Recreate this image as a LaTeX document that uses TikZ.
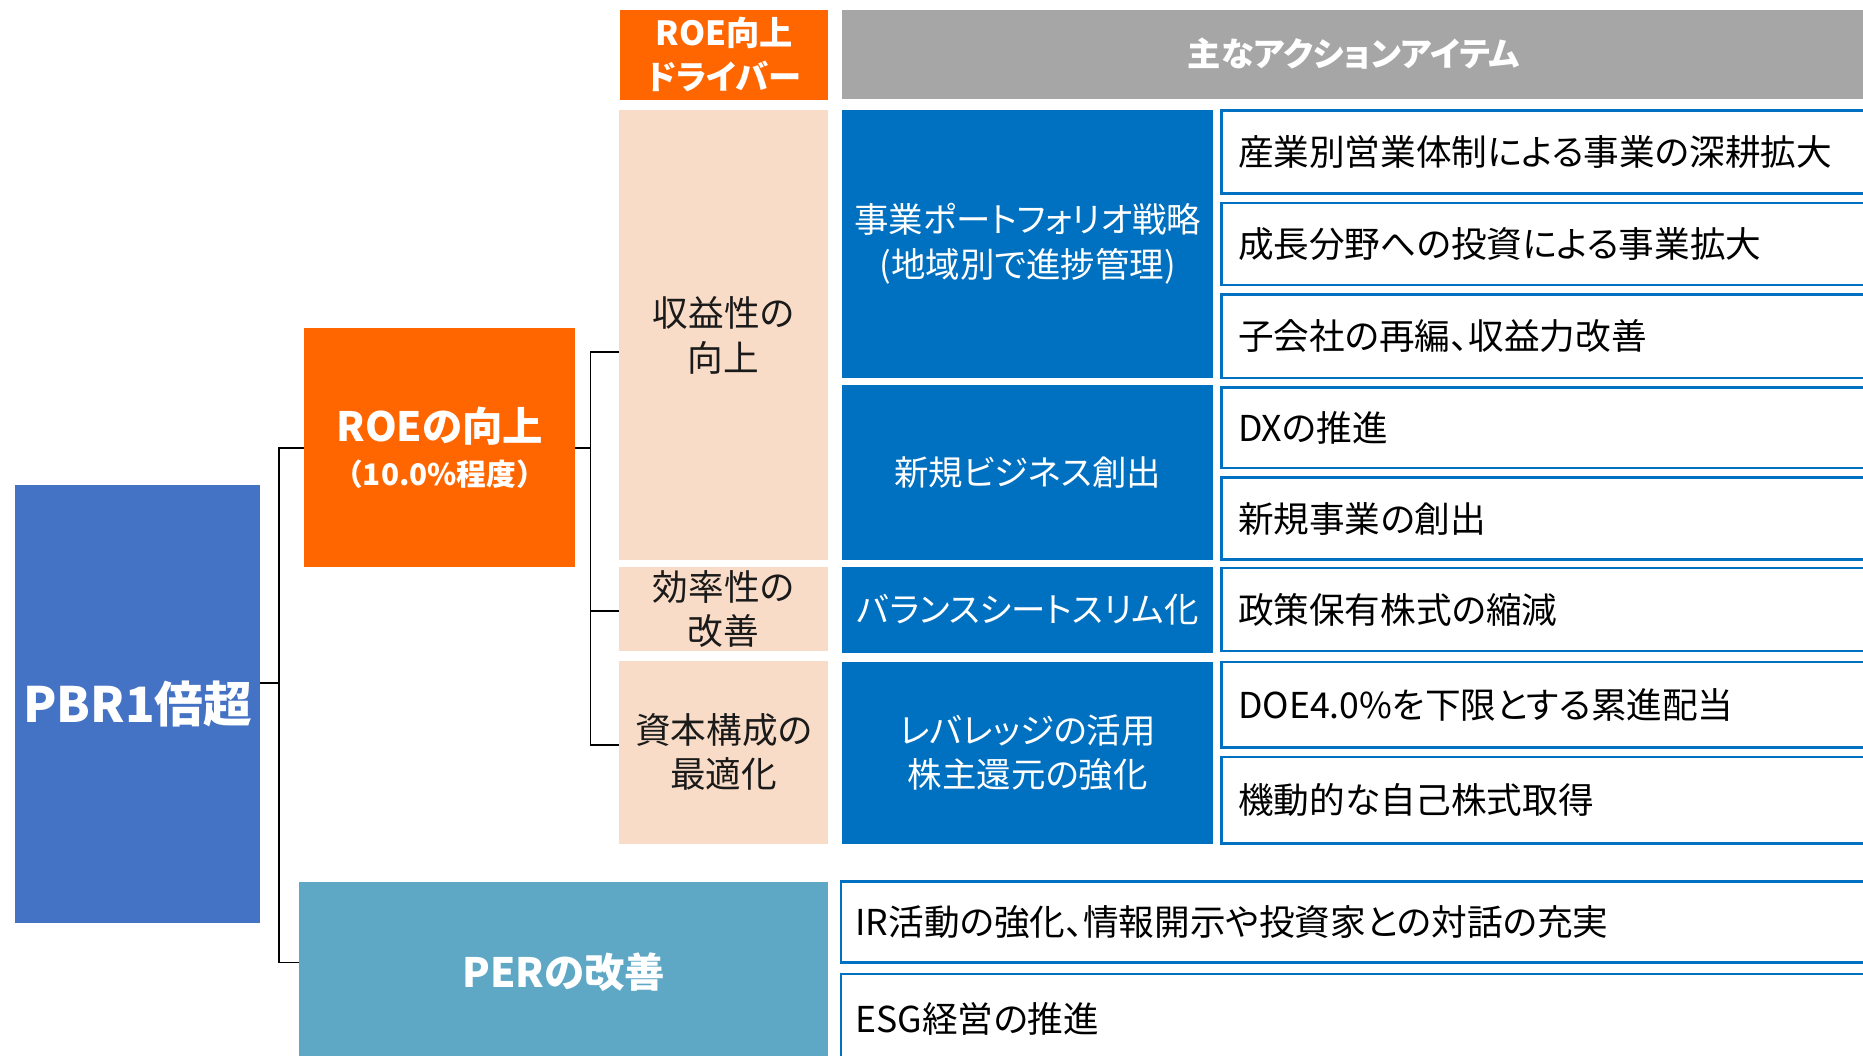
\documentclass[tikz,border=0pt]{standalone}
\usepackage{fontspec}
\setmainfont{Noto Sans CJK JP}[RawFeature={+palt}]
\usetikzlibrary{calc}
\definecolor{pbrblue}{HTML}{4472C4}
\definecolor{roeorange}{HTML}{FF6600}
\definecolor{perteal}{HTML}{5EA8C6}
\definecolor{hdrgray}{HTML}{A6A6A6}
\definecolor{peach}{HTML}{F9DCC8}
\definecolor{actblue}{HTML}{0070C0}
\definecolor{darktext}{HTML}{1A1A1A}
\newcommand{\fsz}[2]{\fontsize{#1}{#2}\selectfont}
\begin{document}
\begin{tikzpicture}[x=1pt,y=-1pt,
  box/.style={rectangle, inner sep=0pt, outer sep=0pt, align=center},
  pbrbox/.style={box, fill=pbrblue, text=white, font=\bfseries\fsz{41}{48}},
  roebox/.style={box, fill=roeorange, text=white},
  perbox/.style={box, fill=perteal, text=white, font=\bfseries\fsz{34}{40}},
  hdrbox/.style={box, fill=hdrgray, text=white, font=\bfseries\fsz{28}{32}},
  drvbox/.style={box, fill=peach, text=darktext, minimum width=176pt, font=\fsz{30}{38}},
  actbox/.style={box, fill=actblue, text=white, minimum width=312pt, font=\fsz{29}{38}},
  itembox/.style={rectangle, outer sep=0pt, draw=actblue, line width=2pt, fill=white,
     text=black, align=left, inner ysep=0pt, inner xsep=14pt, text width=524pt, font=\fsz{30}{36}},
  peritem/.style={itembox, inner xsep=12pt, text width=848pt},
  conn/.style={draw=black, line width=1.5pt}
]
\useasboundingbox (0,0) rectangle (1568,888);

% headers
\node[roebox, minimum width=175pt, minimum height=76pt, font=\bfseries\fsz{28}{37}] (hdrdrv) at (609.5,46) {ROE向上\\ドライバー};
\node[hdrbox, minimum width=861pt, minimum height=75pt] (hdract) at (1139.5,45.5) {主なアクションアイテム};

% main boxes
\node[pbrbox, minimum width=206pt, minimum height=369pt] (pbr) at (116,592.5) {PBR1倍超};
\node[roebox, minimum width=228pt, minimum height=201pt, font=\bfseries\fsz{34}{37}] (roe) at (370,376.5) {ROEの向上\\{\fsz{25}{37}\addfontfeature{RawFeature={-palt}}（10.0\%程度）}};
\node[perbox, minimum width=445pt, minimum height=152pt] (per) at (474.5,818) {PERの改善};

% drivers
\node[drvbox, minimum height=378pt] (d1) at (609,282) {収益性の\\向上};
\node[drvbox, minimum height=71pt, font=\fsz{30}{37}] (d2) at (609,512.5) {効率性の\\改善};
\node[drvbox, minimum height=154pt, font=\fsz{30}{37}] (d3) at (609,633) {資本構成の\\最適化};

% actions
\node[actbox, minimum height=225pt] (c1) at (865,205.5) {事業ポートフォリオ戦略\\(地域別で進捗管理)};
\node[actbox, minimum height=147pt] (c2) at (865,397.5) {新規ビジネス創出};
\node[actbox, minimum height=73pt] (c3) at (865,513.5) {バランスシートスリム化};
\node[actbox, minimum height=153pt, font=\fsz{29}{37}] (c4) at (865,633.5) {レバレッジの活用\\株主還元の強化};

% items
\node[itembox, minimum height=70pt] (i1) at (1304,128) {産業別営業体制による事業の深耕拡大};
\node[itembox, minimum height=69pt] (i2) at (1304,205.5) {成長分野への投資による事業拡大};
\node[itembox, minimum height=70pt] (i3) at (1304,283) {子会社の再編、収益力改善};
\node[itembox, minimum height=68pt] (i4) at (1304,360) {DXの推進};
\node[itembox, minimum height=69pt] (i5) at (1304,436.5) {新規事業の創出};
\node[itembox, minimum height=70pt] (i6) at (1304,513) {政策保有株式の縮減};
\node[itembox, minimum height=72pt] (i7) at (1304,593) {DOE4.0\%を下限とする累進配当};
\node[itembox, minimum height=73pt] (i8) at (1304,673.5) {機動的な自己株式取得};
\node[peritem, minimum height=68pt] (p1) at (1144,776) {IR活動の強化、情報開示や投資家との対話の充実};
\node[peritem, minimum height=75pt] (p2) at (1144,857.5) {ESG経営の推進};

% connectors
\coordinate (ja) at (235,575);
\coordinate (jb) at (235,377);
\coordinate (jc) at (235,810);
\draw[conn] (pbr.east |- ja) -- (ja);
\draw[conn] (roe.west |- jb) -- (jb) -- (jc) -- (per.west |- jc);
\coordinate (ka) at (497,377);
\coordinate (kb) at (497,296);
\coordinate (kc) at (497,514);
\coordinate (kd) at (497,627);
\draw[conn] (roe.east |- ka) -- (ka);
\draw[conn] (d1.west |- kb) -- (kb) -- (kd) -- (d3.west |- kd);
\draw[conn] (kc) -- (d2.west |- kc);
\end{tikzpicture}
\end{document}
